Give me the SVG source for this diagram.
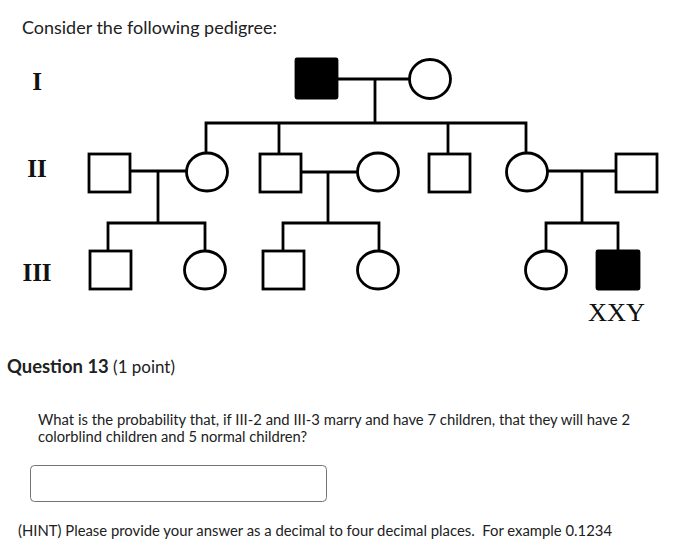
<svg xmlns="http://www.w3.org/2000/svg" width="689" height="539" viewBox="0 0 689 539">
<style>
.ln{stroke:#000;stroke-width:2.8;fill:none;stroke-linecap:square}
.m{stroke:#000;stroke-width:2.8;fill:#fff}
.a{stroke:#000;stroke-width:2.8;fill:#000}
.gen{font-family:"Liberation Serif",serif;font-weight:bold;font-size:25px;fill:#111;text-anchor:middle}
.ui{font-family:Lato,"Liberation Sans",sans-serif;fill:#202122}
</style>
<rect width="689" height="539" fill="#fff"/>
<text class="ui" x="22" y="34" font-size="17.5" textLength="255" lengthAdjust="spacingAndGlyphs">Consider the following pedigree:</text>
<g id="labels">
<text class="gen" x="37" y="90">I</text>
<text class="gen" x="37" y="177">II</text>
<text class="gen" x="37" y="281">III</text>
</g>
<g id="connectors">
<path class="ln" d="M338 79H409M375 79V123M206 123H526M206 123V153M279 123V153M448 123V153M526 123V153"/>
<path class="ln" d="M131 171H187M158 171V223M108 223H205M108 223V251M205 223V251"/>
<path class="ln" d="M302 172H357M328 172V223M283 223H379M283 223V251M379 223V251"/>
<path class="ln" d="M548 171H615M582 171V223M546 223H618M546 223V251M618 223V251"/>
</g>
<g id="I-1"><rect class="a" x="296" y="59" width="41" height="39" rx="1"/></g>
<g id="I-2"><ellipse class="m" cx="430" cy="79" rx="20.5" ry="19.5"/></g>
<g id="II-1"><rect class="m" x="89" y="154" width="41" height="38"/></g>
<g id="II-2"><ellipse class="m" cx="207" cy="172" rx="20.5" ry="19"/></g>
<g id="II-3"><rect class="m" x="260" y="154" width="41" height="38"/></g>
<g id="II-4"><ellipse class="m" cx="378" cy="172" rx="20.5" ry="19"/></g>
<g id="II-5"><rect class="m" x="429" y="154" width="41" height="38"/></g>
<g id="II-6"><ellipse class="m" cx="527" cy="172" rx="20.5" ry="19"/></g>
<g id="II-7"><rect class="m" x="616" y="154" width="41" height="38"/></g>
<g id="III-1"><rect class="m" x="90" y="251" width="41" height="38"/></g>
<g id="III-2"><ellipse class="m" cx="205" cy="270" rx="20.5" ry="19"/></g>
<g id="III-3"><rect class="m" x="263" y="251" width="41" height="38"/></g>
<g id="III-4"><ellipse class="m" cx="378" cy="270" rx="20.5" ry="19"/></g>
<g id="III-5"><ellipse class="m" cx="546" cy="270" rx="20.5" ry="19"/></g>
<g id="III-6"><rect class="a" x="597" y="251" width="42" height="38" rx="1"/>
<text x="616.5" y="321" font-family="Liberation Serif,serif" font-size="26" fill="#111" text-anchor="middle" textLength="57" lengthAdjust="spacingAndGlyphs">XXY</text></g>
<text class="ui" x="7" y="373" font-size="19" textLength="168" lengthAdjust="spacingAndGlyphs"><tspan font-weight="bold">Question 13</tspan><tspan font-size="17.5"> (1 point)</tspan></text>
<text class="ui" x="38" y="425" font-size="15.5" textLength="592" lengthAdjust="spacingAndGlyphs">What is the probability that, if III-2 and III-3 marry and have 7 children, that they will have 2</text>
<text class="ui" x="38" y="442" font-size="15.5" textLength="269" lengthAdjust="spacingAndGlyphs">colorblind children and 5 normal children?</text>
<rect x="30.5" y="465.5" width="296" height="36" rx="4" fill="#fff" stroke="#6f7478" stroke-width="1"/>
<text class="ui" x="18" y="536" font-size="15.5" textLength="594" lengthAdjust="spacingAndGlyphs">(HINT) Please provide your answer as a decimal to four decimal places.&#160; For example 0.1234</text>
</svg>
